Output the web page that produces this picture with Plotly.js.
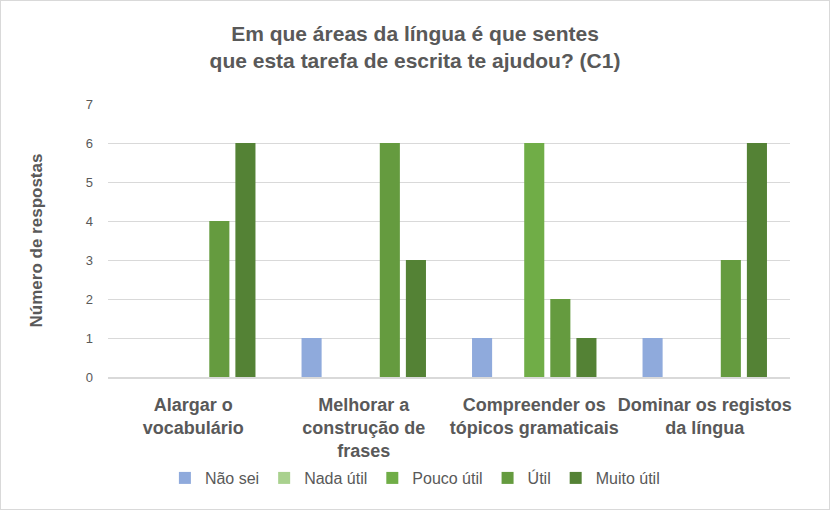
<!DOCTYPE html>
<html>
<head>
<meta charset="utf-8">
<script src="https://cdn.plot.ly/plotly-3.0.1.min.js"></script>
<style>
html,body{margin:0;padding:0;background:#fff;}
#frame{position:absolute;left:0;top:0;width:830px;height:510px;box-sizing:border-box;border:1px solid #d9d9d9;}
#chart{width:828px;height:508px;}
</style>
</head>
<body>
<div id="frame"><div id="chart"></div></div>
<script>
const categories = [
  "Alargar o<br>vocabulário",
  "Melhorar a<br>construção de<br>frases",
  "Compreender os<br>tópicos gramaticais",
  "Dominar os registos<br>da língua"
];
const seriesNames = ["Não sei", "Nada útil", "Pouco útil", "Útil", "Muito útil"];
const naoSei    = [0, 1, 1, 1];
const nadaUtil  = [0, 0, 0, 0];
const poucoUtil = [0, 0, 6, 0];
const util      = [4, 6, 2, 3];
const muitoUtil = [6, 3, 1, 6];
const seriesValues = [naoSei, nadaUtil, poucoUtil, util, muitoUtil];
const colors = ["#8faadc", "#a9d18e", "#70ad47", "#659b3f", "#548235"];
const yTicks = [0, 1, 2, 3, 4, 5, 6, 7];

const FONT = "Liberation Sans Narrow, Arial Narrow, sans-serif";
const GREY = "#595959";

const traces = seriesNames.map((n, i) => ({
  type: "bar",
  name: n,
  x: categories,
  y: seriesValues[i],
  marker: {color: colors[i]},
  hoverinfo: "x+y+name"
}));

const layout = {
  width: 828,
  height: 508,
  margin: {l: 107, r: 39, t: 103, b: 132},
  paper_bgcolor: "#fff",
  plot_bgcolor: "#fff",
  font: {family: FONT, color: GREY},
  title: {
    text: "<b>Em que áreas da língua é que sentes<br>que esta tarefa de escrita te ajudou? (C1)</b>",
    font: {family: FONT, size: 21, color: GREY},
    x: 0.5, xanchor: "center", xref: "container",
    y: 1 - 40 / 508, yanchor: "middle", yref: "container"
  },
  barmode: "group",
  bargap: 0.235,
  bargroupgap: 0.23,
  xaxis: {
    type: "category",
    tickfont: {family: FONT, size: 18, color: GREY},
    tickprefix: "<b>", ticksuffix: "</b>",
    tickangle: 0,
    automargin: false,
    showline: true, linecolor: "#d9d9d9", linewidth: 2,
    ticks: "", showgrid: false, fixedrange: true,
    ticklabelstandoff: 10
  },
  yaxis: {
    range: [0, 7],
    tickvals: yTicks,
    automargin: false,
    tickfont: {family: FONT, size: 13, color: GREY},
    showgrid: true, gridcolor: "#d9d9d9", gridwidth: 1,
    zeroline: false, showline: false, ticks: "",
    ticklen: 0, ticklabelstandoff: 14,
    title: {text: "<b>Número de respostas</b>", font: {family: FONT, size: 17, color: GREY}, standoff: 38},
    fixedrange: true
  },
  showlegend: true,
  legend: {
    orientation: "h",
    x: 0.45, xanchor: "center",
    y: -0.37, yanchor: "middle",
    font: {family: FONT, size: 16, color: GREY},
    itemwidth: 30,
    traceorder: "normal"
  }
};

Plotly.newPlot("chart", traces, layout, {displayModeBar: false, staticPlot: true});
</script>
</body>
</html>
